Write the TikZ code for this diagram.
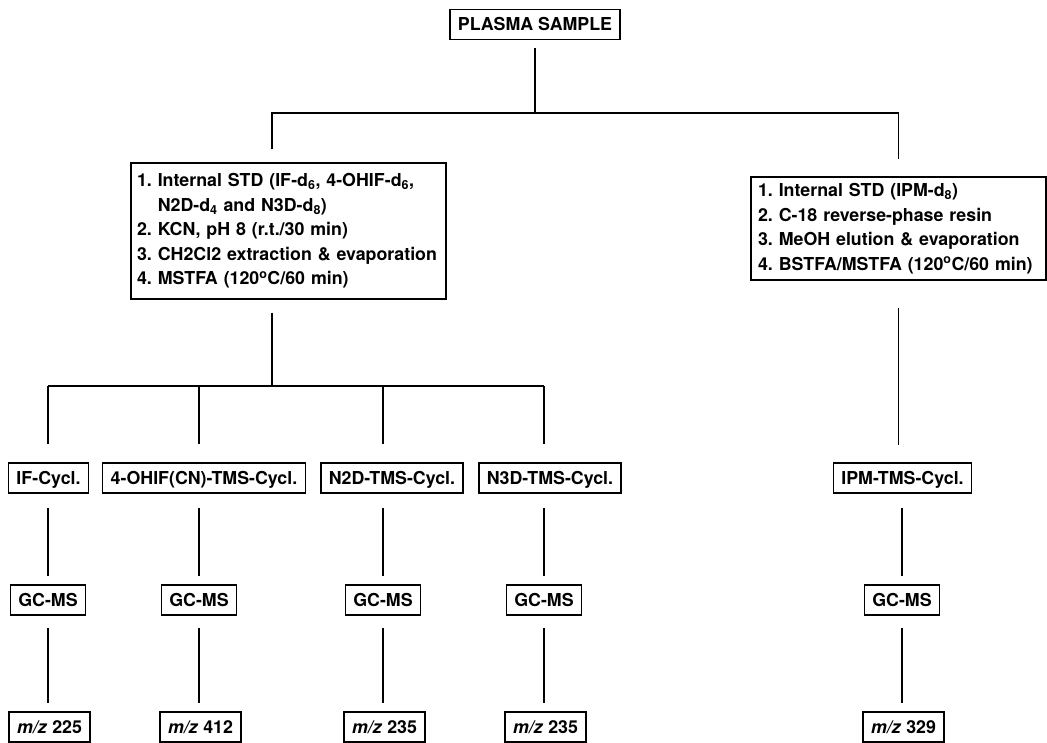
\documentclass[tikz,border=0pt]{standalone}
\usepackage{fontspec}
\setmainfont{TeX Gyre Heros}
\usetikzlibrary{positioning, calc}
\frenchspacing
\tikzstyle{box} = [draw, line width=1.5pt, inner xsep=8pt, inner ysep=0pt, minimum height=30pt, text height=12.7pt, text depth=0pt]
\tikzstyle{stepbox} = [draw, line width=1.5pt, align=left, inner ysep=0pt]
\tikzstyle{link} = [line width=1.8pt]

\begin{document}
\begin{tikzpicture}[x=1pt, y=-1pt,
  every node/.style={font=\fontsize{17.8}{24.5}\selectfont\bfseries}]
  \useasboundingbox (0,0) rectangle (1047,742);

  \node [box] (plasma) at (535,24.5) {PLASMA SAMPLE};
  \node [stepbox, text width=303pt, inner xsep=6pt, minimum height=136pt] (prepA) at (288.5,231)
    {1. Internal STD (IF-d\textsubscript{6}, 4-OHIF-d\textsubscript{6},\\
     \phantom{1. }N2D-d\textsubscript{4} and N3D-d\textsubscript{8})\\
     2. KCN, pH 8 (r.t./30 min)\\
     3. CH2Cl2 extraction \& evaporation\\
     4. MSTFA (120\textsuperscript{o}C/60 min)};
  \node [stepbox, text width=281pt, inner xsep=7pt, minimum height=103pt] (prepB) at (898.5,228.5)
    {1. Internal STD (IPM-d\textsubscript{8})\\
     2. C-18 reverse-phase resin\\
     3. MeOH elution \& evaporation\\
     4. BSTFA/MSTFA (120\textsuperscript{o}C/60 min)};

  \coordinate (splitA) at (535,113);
  \coordinate (splitB) at (272,386);

  % derivatives
  \node [box] (cycif) at (48.5,478) {IF-Cycl.};
  \node [box] (cycohif) at (204,478) {4-OHIF(CN)-TMS-Cycl.};
  \node [box] (cycn2d) at (392,478) {N2D-TMS-Cycl.};
  \node [box] (cycn3d) at (550,478) {N3D-TMS-Cycl.};
  \node [box] (cycipm) at (902.5,478) {IPM-TMS-Cycl.};

  % GC-MS and ions
  \foreach \n/\x/\ion in {if/48/225, ohif/199/412, n2d/383/235, n3d/544/235, ipm/902/329} {
    \node [box] (gc\n) at (\x,600) {GC-MS};
    \node [box] (mz\n) at (\x+1.5,727) {\textit{m/z} \ion};
  }

  \draw [link, shorten <=8pt] (plasma.south) -- (splitA);
  \draw [link, shorten <=13pt, shorten >=17pt] (prepA.north -| splitB) -- (splitA -| splitB)
    -- (splitA -| prepB.north) -- (prepB.north);
  \draw [link, shorten <=13pt] (prepA.south -| splitB) -- (splitB);
  \draw [link] (splitB -| gcif.north) -- (splitB -| gcn3d.north);
  \draw [link, shorten <=27pt, shorten >=17pt] (prepB.south) -- (prepB.south |- cycipm.north);

  \foreach \n in {if,ohif,n2d,n3d}
    \draw [link, shorten >=18pt] (splitB -| gc\n.north) -- (gc\n.north |- cyc\n.north);
  \foreach \n in {if,ohif,n2d,n3d,ipm} {
    \draw [link, shorten <=14pt, shorten >=8pt] (gc\n.north |- cyc\n.south) -- (gc\n.north);
    \draw [link, shorten <=12pt, shorten >=8pt] (gc\n.south) -- (gc\n.south |- mz\n.north);
  }
\end{tikzpicture}
\end{document}
